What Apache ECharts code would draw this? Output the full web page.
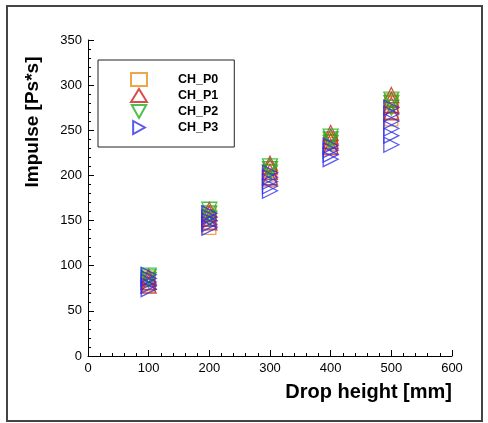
<!DOCTYPE html>
<html>
<head>
<meta charset="utf-8">
<script src="https://cdn.jsdelivr.net/npm/echarts@6/dist/echarts.min.js"></script>
<style>
    html, body { margin: 0; padding: 0; background: #fff; }
    #frame {
        position: absolute; left: 6px; top: 5px; width: 473px; height: 413px;
        border: 2px solid #444;
    }
    #chart { position: absolute; left: 0; top: 0; width: 488px; height: 423px; }
</style>
</head>
<body>
<div id="frame"></div>
<div id="chart"></div>
<script>
// Drop heights (mm)
const heights = [100, 200, 300, 400, 500];

// Impulse readings per height, one list per channel
const chP0 = [
    [78, 80, 84, 86],
    [142, 148, 152, 155, 158],
    [195, 200, 205, 208],
    [230, 235, 238, 240],
    [262, 270, 276, 280, 283]
];
const chP1 = [
    [78, 82, 86, 88],
    [148, 152, 158, 162],
    [198, 204, 210, 213],
    [232, 238, 243, 247],
    [270, 278, 284, 289]
];
const chP2 = [
    [84, 87, 89],
    [152, 158, 162],
    [203, 207, 210],
    [236, 240, 243],
    [275, 280, 284]
];
const chP3 = [
    [74, 78, 82, 86, 90],
    [142, 146, 150, 154, 158],
    [183, 188, 193, 198, 203],
    [218, 223, 228, 233],
    [234, 244, 252, 260, 268, 275]
];

const xTicks = [0, 100, 200, 300, 400, 500, 600];
const yTicks = [0, 50, 100, 150, 200, 250, 300, 350];

function toPoints(groups) {
    const pts = [];
    groups.forEach((vals, i) => {
        vals.forEach(v => pts.push([heights[i], v]));
    });
    return pts;
}

const chart = echarts.init(document.getElementById('chart'));

const font = '"Liberation Sans", Arial, sans-serif';

// legend icons drawn as paths so the rotated triangles show the right way
const downTri = 'path://M0,0 L10,0 L5,9 Z';
const rightTri = 'path://M0,0 L9,5 L0,10 Z';

function makeSeries(name, groups, symbol, rotate, color, size) {
    return {
        name: name,
        type: 'scatter',
        data: toPoints(groups),
        symbol: symbol,
        symbolRotate: rotate,
        symbolSize: size,
        itemStyle: { color: 'transparent', borderColor: color, borderWidth: 1.3 },
        emphasis: { disabled: true }
    };
}

chart.setOption({
    animation: false,
    textStyle: { fontFamily: font },
    grid: { left: 88, right: 36, top: 40, bottom: 67 },
    legend: {
        orient: 'vertical',
        left: 98,
        top: 60,
        padding: [12, 16, 12, 32],
        itemGap: 1,
        itemWidth: 16,
        itemHeight: 13,
        borderColor: '#222',
        borderWidth: 1,
        textStyle: {
            fontFamily: font, fontWeight: 'bold', fontSize: 12.5, color: '#000',
            padding: [0, 0, 0, 26]
        },
        data: [
            { name: 'CH_P0', icon: 'rect' },
            { name: 'CH_P1', icon: 'triangle' },
            { name: 'CH_P2', icon: downTri },
            { name: 'CH_P3', icon: rightTri }
        ]
    },
    xAxis: {
        type: 'value',
        min: xTicks[0],
        max: xTicks[xTicks.length - 1],
        interval: 100,
        axisLine: { lineStyle: { color: '#000', width: 1 } },
        axisTick: { inside: true, length: 6, lineStyle: { color: '#000' } },
        minorTick: { show: true, splitNumber: 5, length: 3, lineStyle: { color: '#000' } },
        splitLine: { show: false },
        axisLabel: { color: '#000', fontSize: 13, margin: 6, fontFamily: font }
    },
    yAxis: {
        type: 'value',
        min: yTicks[0],
        max: yTicks[yTicks.length - 1],
        interval: 50,
        axisLine: { show: true, lineStyle: { color: '#000', width: 1 } },
        axisTick: { show: true, inside: true, length: 6, lineStyle: { color: '#000' } },
        minorTick: { show: true, splitNumber: 5, length: 3, lineStyle: { color: '#000' } },
        splitLine: { show: false },
        axisLabel: { color: '#000', fontSize: 13, margin: 6, fontFamily: font }
    },
    graphic: [
        {
            type: 'text',
            x: 33, y: 122,
            rotation: Math.PI / 2,
            style: {
                text: 'Impulse [Ps*s]',
                font: 'bold 19px ' + font,
                fill: '#000',
                textAlign: 'center',
                textVerticalAlign: 'middle'
            }
        },
        {
            type: 'text',
            right: 36, top: 382,
            style: {
                text: 'Drop height [mm]',
                font: 'bold 20px ' + font,
                fill: '#000'
            }
        }
    ],
    series: [
        makeSeries('CH_P0', chP0, 'rect', 0, '#e8901c', 13),
        makeSeries('CH_P1', chP1, 'triangle', 0, '#d02020', 15),
        makeSeries('CH_P2', chP2, 'triangle', 180, '#20b020', 15),
        makeSeries('CH_P3', chP3, 'triangle', -90, '#3030e8', 15)
    ]
});
</script>
</body>
</html>
